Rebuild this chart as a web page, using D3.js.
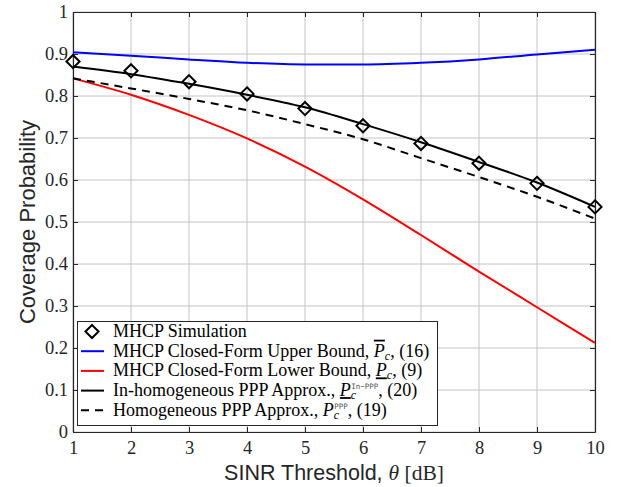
<!DOCTYPE html>
<html>
<head>
<meta charset="utf-8">
<script src="https://cdn.jsdelivr.net/npm/d3@7"></script>
<style>
  body { margin: 0; background: #fff; }
  svg { display: block; }
</style>
</head>
<body>
<svg id="chart"></svg>
<script>
// SINR threshold (dB)
const theta = [1, 2, 3, 4, 5, 6, 7, 8, 9, 10];

// series
const simulation = [0.882, 0.860, 0.834, 0.805, 0.770, 0.729, 0.687, 0.640, 0.592, 0.536];
const upperBound = [0.904, 0.896, 0.887, 0.879, 0.875, 0.875, 0.879, 0.887, 0.899, 0.910];
const lowerBound = [0.842, 0.803, 0.755, 0.699, 0.632, 0.554, 0.469, 0.382, 0.297, 0.212];
const inhomPPP   = [0.870, 0.852, 0.829, 0.803, 0.773, 0.733, 0.690, 0.643, 0.594, 0.536];
const homPPP     = [0.842, 0.818, 0.793, 0.766, 0.733, 0.697, 0.652, 0.607, 0.560, 0.508];

const xTicks = [1, 2, 3, 4, 5, 6, 7, 8, 9, 10];
const yTicks = [0, 0.1, 0.2, 0.3, 0.4, 0.5, 0.6, 0.7, 0.8, 0.9, 1];

const width = 618, height = 487;
const margin = { top: 12, right: 23, bottom: 55, left: 73 };

const svg = d3.select("#chart")
    .attr("width", width)
    .attr("height", height);

const x = d3.scaleLinear().domain([1, 10]).range([margin.left, width - margin.right]);
const y = d3.scaleLinear().domain([0, 1]).range([height - margin.bottom, margin.top]);

const serif = "'Liberation Serif', 'DejaVu Serif', serif";
const sans = "'Liberation Sans', Arial, sans-serif";

// grid
const grid = svg.append("g");
grid.selectAll(".gx").data(xTicks).enter().append("line")
    .attr("x1", d => x(d)).attr("x2", d => x(d))
    .attr("y1", y(0)).attr("y2", y(1))
    .attr("stroke", "#c4c4c4").attr("stroke-width", 1);
grid.selectAll(".gy").data(yTicks).enter().append("line")
    .attr("x1", x(1)).attr("x2", x(10))
    .attr("y1", d => y(d)).attr("y2", d => y(d))
    .attr("stroke", "#c4c4c4").attr("stroke-width", 1);

// axes (inner ticks, box)
const axisColor = "#262626";
const axBottom = svg.append("g").attr("transform", `translate(0,${y(0)})`)
    .call(d3.axisBottom(x).tickValues(xTicks).tickSizeInner(-5).tickSizeOuter(0).tickPadding(9).tickFormat(d3.format("d")));
const axLeft = svg.append("g").attr("transform", `translate(${x(1)},0)`)
    .call(d3.axisLeft(y).tickValues(yTicks).tickSizeInner(-5).tickSizeOuter(0).tickPadding(5).tickFormat(d => d === 0 || d === 1 ? d3.format("d")(d) : d3.format(".1f")(d)));
const axTop = svg.append("g").attr("transform", `translate(0,${y(1)})`)
    .call(d3.axisTop(x).tickValues(xTicks).tickSizeInner(-5).tickSizeOuter(0).tickFormat(""));
const axRight = svg.append("g").attr("transform", `translate(${x(10)},0)`)
    .call(d3.axisRight(y).tickValues(yTicks).tickSizeInner(-5).tickSizeOuter(0).tickFormat(""));

[axBottom, axLeft, axTop, axRight].forEach(a => {
    a.select(".domain").attr("stroke", axisColor).attr("stroke-width", 1.2);
    a.selectAll(".tick line").attr("stroke", axisColor);
    a.selectAll(".tick text").attr("fill", "#262626").attr("font-family", serif).attr("font-size", "18.5px");
});
axBottom.selectAll(".tick text").attr("dy", "0.71em");

// lines
const line = d3.line()
    .x((d, i) => x(theta[i]))
    .y(d => y(d))
    .curve(d3.curveMonotoneX);

const series = [
    { data: upperBound, color: "#0000ff", dash: null },
    { data: lowerBound, color: "#ff0000", dash: null },
    { data: inhomPPP, color: "#000000", dash: null },
    { data: homPPP, color: "#000000", dash: "8,6" }
];

svg.selectAll(".series").data(series).enter().append("path")
    .attr("fill", "none")
    .attr("stroke", d => d.color)
    .attr("stroke-width", 2)
    .attr("stroke-dasharray", d => d.dash)
    .attr("d", d => line(d.data));

// diamond markers
const diamond = d3.symbol().type(d3.symbolDiamond2).size(110);
svg.selectAll(".marker").data(simulation).enter().append("path")
    .attr("transform", (d, i) => `translate(${x(theta[i])},${y(d)})`)
    .attr("d", diamond)
    .attr("fill", "none")
    .attr("stroke", "#000")
    .attr("stroke-width", 2);

// axis titles
svg.append("text")
    .attr("transform", `translate(35,${(y(0) + y(1)) / 2}) rotate(-90)`)
    .attr("text-anchor", "middle")
    .attr("font-family", sans)
    .attr("font-size", "22px")
    .attr("fill", "#262626")
    .text("Coverage Probability");

const xt = svg.append("text")
    .attr("x", (x(1) + x(10)) / 2)
    .attr("y", 480)
    .attr("text-anchor", "middle")
    .attr("font-size", "21.5px")
    .attr("fill", "#262626");
xt.append("tspan").attr("font-family", sans).text("SINR Threshold, ");
xt.append("tspan").attr("font-family", serif).attr("font-style", "italic").text("θ");
xt.append("tspan").attr("font-family", serif).text(" [dB]");

// legend
const lg = svg.append("g");
lg.append("rect")
    .attr("x", 77.5).attr("y", 321.5)
    .attr("width", 360).attr("height", 104)
    .attr("fill", "#fff")
    .attr("stroke", "#262626")
    .attr("stroke-width", 1);

const legendItems = [
    { kind: "marker" },
    { kind: "line", color: "#0000ff", dash: null },
    { kind: "line", color: "#ff0000", dash: null },
    { kind: "line", color: "#000000", dash: null },
    { kind: "line", color: "#000000", dash: "8,6" }
];
const rowY = i => 331.5 + i * 19.7;

legendItems.forEach((it, i) => {
    if (it.kind === "marker") {
        lg.append("path")
            .attr("transform", `translate(92,${rowY(i)})`)
            .attr("d", diamond)
            .attr("fill", "none").attr("stroke", "#000").attr("stroke-width", 2);
    } else {
        lg.append("line")
            .attr("x1", 81).attr("x2", 104)
            .attr("y1", rowY(i)).attr("y2", rowY(i))
            .attr("stroke", it.color).attr("stroke-width", 2)
            .attr("stroke-dasharray", it.dash);
    }
});

function legendText(i) {
    return lg.append("text")
        .attr("x", 113).attr("y", rowY(i) + 5.5)
        .attr("font-family", serif)
        .attr("font-size", "18px")
        .attr("fill", "#000");
}
function calP(t, deco) {
    t.append("tspan").attr("font-style", "italic").attr("text-decoration", deco).text("P");
    t.append("tspan").attr("font-style", "italic").attr("font-size", "12px").attr("dy", 3).text("c");
}

let t = legendText(0);
t.text("MHCP Simulation");

t = legendText(1);
t.append("tspan").text("MHCP Closed-Form Upper Bound, ");
calP(t, "overline");
t.append("tspan").attr("dy", -3).text(", (16)");

t = legendText(2);
t.append("tspan").text("MHCP Closed-Form Lower Bound, ");
calP(t, "underline");
t.append("tspan").attr("dy", -3).text(", (9)");

t = legendText(3);
t.append("tspan").text("In-homogeneous PPP Approx., ");
t.append("tspan").attr("font-style", "italic").attr("text-decoration", "underline").text("P");
t.append("tspan").attr("font-style", "italic").attr("font-size", "12px").attr("dy", 3).text("c");
t.append("tspan").attr("font-family", "'DejaVu Sans Mono', monospace").attr("font-size", "7.5px").attr("fill", "#555").attr("dx", -5).attr("dy", -10).text("In−PPP");
t.append("tspan").attr("dy", 7).text(", (20)");

t = legendText(4);
t.append("tspan").text("Homogeneous PPP Approx., ");
t.append("tspan").attr("font-style", "italic").text("P");
t.append("tspan").attr("font-style", "italic").attr("font-size", "12px").attr("dy", 3).text("c");
t.append("tspan").attr("font-family", "'DejaVu Sans Mono', monospace").attr("font-size", "7.5px").attr("fill", "#555").attr("dx", -5).attr("dy", -10).text("PPP");
t.append("tspan").attr("dy", 7).text(", (19)");
</script>
</body>
</html>
